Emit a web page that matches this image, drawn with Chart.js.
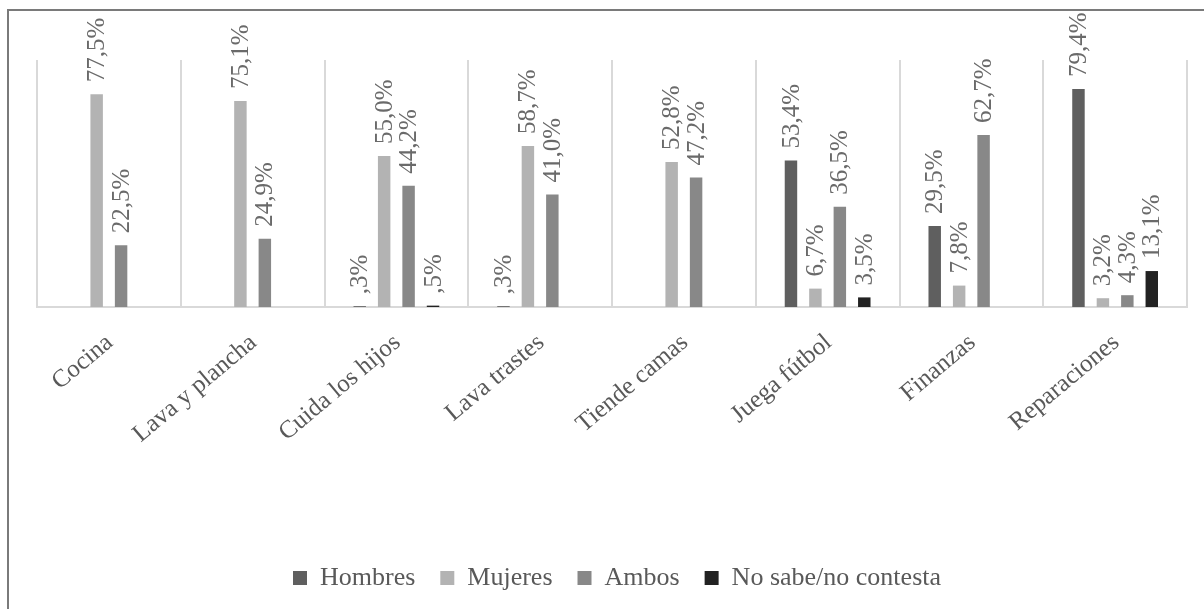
<!DOCTYPE html>
<html>
<head>
<meta charset="utf-8">
<script src="https://cdn.jsdelivr.net/npm/chart.js@4/dist/chart.umd.min.js"></script>
<style>
	body { margin: 0; background: #fff; }
	#frame { position: absolute; left: 7px; top: 9px; width: 1300px; height: 700px; border-left: 2px solid #7a7a7a; border-top: 2px solid #7a7a7a; }
	#chart { position: absolute; left: 0; top: 0; }
</style>
</head>
<body>
<div id="frame"></div>
<canvas id="chart" width="1204" height="609"></canvas>
<script>
var tareas = ['Cocina', 'Lava y plancha', 'Cuida los hijos', 'Lava trastes', 'Tiende camas', 'Juega fútbol', 'Finanzas', 'Reparaciones'];
var series = ['Hombres', 'Mujeres', 'Ambos', 'No sabe/no contesta'];
var hombres = [null, null, 0.3, 0.3, null, 53.4, 29.5, 79.4];
var mujeres = [77.5, 75.1, 55.0, 58.7, 52.8, 6.7, 7.8, 3.2];
var ambos = [22.5, 24.9, 44.2, 41.0, 47.2, 36.5, 62.7, 4.3];
var noSabe = [null, null, 0.5, null, null, 3.5, null, 13.1];
var colores = ['#5f5f5f', '#b3b3b3', '#888888', '#222222'];

var FONT = "'Liberation Serif', 'Times New Roman', serif";

//formato con coma decimal, sin el cero inicial (",3%")
function pct(v){
	var s = v.toFixed(1).replace('.', ',');
	if (s.indexOf('0,') == 0) s = s.substring(1);
	return s + '%';
}

//etiquetas verticales encima de cada barra
var etiquetas = {
	id: 'etiquetas',
	afterDatasetsDraw: function(chart){
		var ctx = chart.ctx;
		ctx.save();
		ctx.font = '25px ' + FONT;
		ctx.fillStyle = '#6a6a6a';
		ctx.textAlign = 'left';
		ctx.textBaseline = 'middle';
		chart.data.datasets.forEach(function(ds, i){
			var meta = chart.getDatasetMeta(i);
			meta.data.forEach(function(bar, j){
				var v = ds.data[j];
				if (v === null || v === undefined) return;
				ctx.save();
				ctx.translate(bar.x, bar.y - 12);
				ctx.rotate(-Math.PI / 2);
				ctx.fillText(pct(v), 0, 1);
				ctx.restore();
			});
		});
		ctx.restore();
	}
};

//bajar la leyenda hasta su sitio
var bajarLeyenda = {
	id: 'bajarLeyenda',
	afterLayout: function(chart){
		var L = chart.legend;
		var h = L.bottom - L.top;
		L.top = 578 - 13 - 25;
		L.bottom = L.top + h;
		L.left += 5;
		L.right += 5;
	}
};

var datos = [hombres, mujeres, ambos, noSabe];
var datasets = [];
for (var i = 0; i < series.length; i++){
	datasets.push({
		label: series[i],
		data: datos[i],
		backgroundColor: colores[i],
		categoryPercentage: 0.68,
		barPercentage: 0.51
	});
}

new Chart(document.getElementById('chart'), {
	type: 'bar',
	data: { labels: tareas, datasets: datasets },
	options: {
		responsive: false,
		animation: false,
		layout: { padding: { left: 37, right: 17, top: 60, bottom: 8 } },
		plugins: {
			legend: {
				position: 'bottom',
				labels: {
					font: { family: FONT, size: 26 },
					color: '#595959',
					boxWidth: 14,
					boxHeight: 14,
					padding: 25
				}
			},
			tooltip: { enabled: false }
		},
		scales: {
			x: {
				grid: { color: '#d9d9d9', lineWidth: 2, drawTicks: false, offset: true },
				border: { color: '#d9d9d9', width: 2 },
				ticks: {
					font: { family: FONT, size: 25 },
					color: '#595959',
					minRotation: 40,
					maxRotation: 40,
					padding: 21,
					labelOffset: 1
				},
				afterFit: function(scale){
					scale.height = 609 - 8 - scale.chart.legend.height - 307;
				}
			},
			y: { display: false, min: 0, max: 90 }
		}
	},
	plugins: [etiquetas, bajarLeyenda]
});
</script>
</body>
</html>
